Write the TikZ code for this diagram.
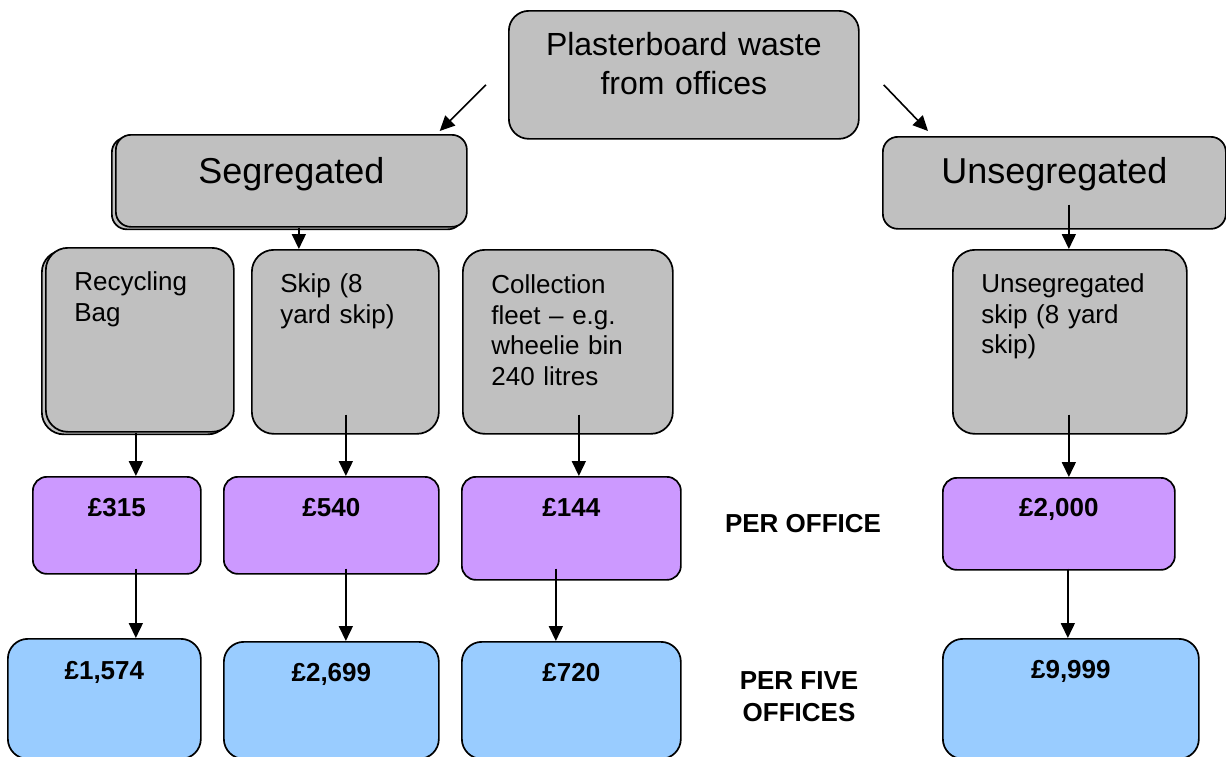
\documentclass[tikz,border=0pt]{standalone}
\usepackage{fontspec}
\setmainfont{Liberation Sans}
\usetikzlibrary{arrows.meta,shadows}
\definecolor{boxgrey}{HTML}{C0C0C0}
\definecolor{costpurple}{HTML}{CC99FF}
\definecolor{costblue}{HTML}{99CCFF}
\tikzstyle{rbox} = [rectangle,draw,line width=1.7pt,inner ysep=0pt,anchor=north west]

\begin{document}
\begin{tikzpicture}
		[x=1pt,y=-1pt,
		head/.style={
		rbox,
		fill=boxgrey,
		rounded corners=15pt,
		inner xsep=0pt,
		align=center,
		font=\fontsize{36}{40}\selectfont},
		option/.style={
		rbox,
		fill=boxgrey,
		rounded corners=22pt,
		inner xsep=28.5pt,
		align=left,
		text height=43pt,
		text depth=141pt,
		font=\fontsize{26}{30.5}\selectfont},
		cost/.style={
		rbox,
		fill=costpurple,
		rounded corners=14pt,
		inner xsep=0pt,
		align=center,
		text height=40pt,
		font=\fontsize{26}{30}\selectfont\bfseries},
		total/.style={cost,fill=costblue,rounded corners=20pt},
		stacked/.style={copy shadow={shadow xshift=-4pt,shadow yshift=-2.5pt,draw=black,fill=boxgrey}},
		arr/.style={-{Triangle[length=15pt,width=14pt]},line width=1.6pt},
		note/.style={font=\fontsize{26}{32}\selectfont\bfseries,align=center}
		]
		\useasboundingbox (0,0) rectangle (1226,756);
		\node[head,text width=350pt,text height=45pt,text depth=83pt,rounded corners=20pt,font=\fontsize{32}{39}\selectfont](top) at (508,10) {Plasterboard waste\\from offices};
		\node[head,stacked,text width=351pt,text height=49pt,text depth=43pt](seg) at (115,134) {Segregated};
		\node[head,text width=343pt,text height=47pt,text depth=45pt](unseg) at (882,136) {Unsegregated};
		\node[option,stacked,text width=131pt](bag) at (45,247) {Recycling\\Bag};
		\node[option,text width=130pt](skip) at (251,249) {Skip (8\\yard skip)};
		\node[option,text width=153pt,text height=44pt,text depth=140pt](fleet) at (462,249) {Collection\\fleet – e.g.\\wheelie bin\\240 litres};
		\node[option,text width=177pt](uskip) at (952,249) {Unsegregated\\skip (8 yard\\skip)};
		\node[cost,text width=168pt,text depth=57pt](p315) at (32,476) {£315};
		\node[cost,text width=215pt,text depth=57pt](p540) at (223,476) {£540};
		\node[cost,text width=219pt,text depth=63pt](p144) at (461,476) {£144};
		\node[cost,text width=232pt,text height=39pt,text depth=53pt](p2000) at (942,477) {£2,000};
		\node[total,text width=193pt,text height=41pt,text depth=79pt](b1574) at (7,638) {£1,574};
		\node[total,text width=215pt,text depth=77pt](b2699) at (223,641) {£2,699};
		\node[total,text width=219pt,text depth=77pt](b720) at (461,641) {£720};
		\node[total,text width=256pt,text depth=80pt](b9999) at (942,638) {£9,999};
		\node[note,anchor=base](perone) at (803,532) {PER OFFICE};
		\node[note](perfive) at (799,697) {PER FIVE\\OFFICES};
		\draw[arr] ([xshift=-22pt,yshift=-10pt]top.west) -- ([xshift=-28pt,yshift=3pt]seg.north east);
		\draw[arr] ([xshift=24pt,yshift=-10pt]top.east) -- ([xshift=46pt,yshift=5pt]unseg.north west);
		\draw[arr] ([xshift=7.5pt]seg.south) -- ([xshift=-46.5pt]skip.north);
		\draw[arr] ([xshift=14.5pt,yshift=25pt]unseg.south) -- ([xshift=-1pt]uskip.north);
		\draw[arr] ([xshift=-4pt]bag.south) -- ([xshift=19pt]p315.north);
		\draw[arr] ([xshift=0.5pt,yshift=20pt]skip.south) -- ([xshift=14.5pt]p540.north);
		\draw[arr] ([xshift=11pt,yshift=20pt]fleet.south) -- ([xshift=7.5pt]p144.north);
		\draw[arr] ([xshift=-1pt,yshift=20pt]uskip.south) -- ([xshift=10pt]p2000.north);
		\draw[arr] ([xshift=19pt,yshift=6pt]p315.south) -- ([xshift=31.5pt]b1574.north);
		\draw[arr] ([xshift=14.5pt,yshift=6pt]p540.south) -- ([xshift=14.5pt]b2699.north);
		\draw[arr] ([xshift=-15.5pt,yshift=12pt]p144.south) -- ([xshift=-15.5pt]b720.north);
		\draw[arr] ([xshift=9pt,yshift=2pt]p2000.south) -- ([xshift=-3pt]b9999.north);
		\end{tikzpicture}
\end{document}
